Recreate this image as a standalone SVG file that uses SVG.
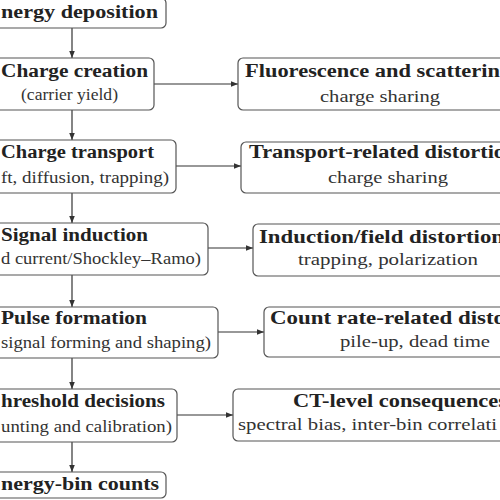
<svg xmlns="http://www.w3.org/2000/svg" width="500" height="500" viewBox="0 0 500 500">
<defs>
<marker id="ah" viewBox="0 0 10 10" refX="10" refY="5" markerWidth="7" markerHeight="7" markerUnits="userSpaceOnUse" orient="auto">
<path d="M0,1 L10,5 L0,9 z" fill="#333"/>
</marker>
<style>
.box{fill:#fff;stroke:#555;stroke-width:1.2}
.h{font-family:'Liberation Serif','DejaVu Serif',serif;font-weight:bold;font-size:18px;fill:#222}
.s{font-family:'Liberation Serif','DejaVu Serif',serif;font-size:17px;fill:#333}
.c{stroke:#333;stroke-width:1.2;fill:none;marker-end:url(#ah)}
</style>
</defs>
<rect width="500" height="500" fill="#fff"/>
<g id="connectors">
<line class="c" x1="72" y1="28" x2="72" y2="58"/>
<line class="c" x1="72" y1="110" x2="72" y2="140"/>
<line class="c" x1="72" y1="193" x2="72" y2="223"/>
<line class="c" x1="72" y1="275" x2="72" y2="307"/>
<line class="c" x1="72" y1="358" x2="72" y2="389"/>
<line class="c" x1="72" y1="442" x2="72" y2="472"/>
<line class="c" x1="154" y1="84" x2="238" y2="84"/>
<line class="c" x1="176" y1="166" x2="241" y2="166"/>
<line class="c" x1="208" y1="248" x2="253" y2="248"/>
<line class="c" x1="218" y1="332" x2="264" y2="332"/>
<line class="c" x1="177" y1="415" x2="233" y2="415"/>
</g>
<g id="energy-deposition">
<rect class="box" x="-20" y="-2" width="186" height="30" rx="5"/>
<text class="h" x="1" y="18" textLength="157" lengthAdjust="spacingAndGlyphs">nergy deposition</text>
</g>
<g id="charge-creation">
<rect class="box" x="-14" y="58" width="168" height="52" rx="5"/>
<text class="h" x="1" y="77" textLength="147" lengthAdjust="spacingAndGlyphs">Charge creation</text>
<text class="s" x="21" y="100" textLength="97" lengthAdjust="spacingAndGlyphs">(carrier yield)</text>
</g>
<g id="charge-transport">
<rect class="box" x="-32" y="140" width="208" height="53" rx="5"/>
<text class="h" x="1" y="158" textLength="153" lengthAdjust="spacingAndGlyphs">Charge transport</text>
<text class="s" x="1" y="183" textLength="168" lengthAdjust="spacingAndGlyphs">ft, diffusion, trapping)</text>
</g>
<g id="signal-induction">
<rect class="box" x="-64" y="223" width="272" height="52" rx="5"/>
<text class="h" x="1" y="241" textLength="147" lengthAdjust="spacingAndGlyphs">Signal induction</text>
<text class="s" x="1" y="264" textLength="200" lengthAdjust="spacingAndGlyphs">d current/Shockley–Ramo)</text>
</g>
<g id="pulse-formation">
<rect class="box" x="-74" y="307" width="292" height="51" rx="5"/>
<text class="h" x="1" y="324" textLength="146" lengthAdjust="spacingAndGlyphs">Pulse formation</text>
<text class="s" x="1" y="348" textLength="210" lengthAdjust="spacingAndGlyphs">signal forming and shaping)</text>
</g>
<g id="threshold-decisions">
<rect class="box" x="-33" y="389" width="210" height="53" rx="5"/>
<text class="h" x="1" y="407" textLength="164" lengthAdjust="spacingAndGlyphs">hreshold decisions</text>
<text class="s" x="1" y="432" textLength="171" lengthAdjust="spacingAndGlyphs">unting and calibration)</text>
</g>
<g id="energy-bin-counts">
<rect class="box" x="-22" y="472" width="188" height="26" rx="5"/>
<text class="h" x="1" y="490" textLength="158" lengthAdjust="spacingAndGlyphs">nergy-bin counts</text>
</g>
<g id="fluorescence">
<rect class="box" x="238" y="58" width="290" height="52" rx="5"/>
<text class="h" x="245" y="77" textLength="255" lengthAdjust="spacingAndGlyphs">Fluorescence and scatterin</text>
<text class="s" x="320" y="102" textLength="120" lengthAdjust="spacingAndGlyphs">charge sharing</text>
</g>
<g id="transport-distortion">
<rect class="box" x="241" y="142" width="290" height="51" rx="5"/>
<text class="h" x="249" y="158" textLength="256" lengthAdjust="spacingAndGlyphs">Transport-related distortio</text>
<text class="s" x="328" y="183" textLength="120" lengthAdjust="spacingAndGlyphs">charge sharing</text>
</g>
<g id="induction-distortion">
<rect class="box" x="253" y="224" width="290" height="52" rx="5"/>
<text class="h" x="259" y="243" textLength="245" lengthAdjust="spacingAndGlyphs">Induction/field distortion</text>
<text class="s" x="298" y="265" textLength="180" lengthAdjust="spacingAndGlyphs">trapping, polarization</text>
</g>
<g id="count-rate-distortion">
<rect class="box" x="264" y="307" width="300" height="50" rx="5"/>
<text class="h" x="270" y="324" textLength="235" lengthAdjust="spacingAndGlyphs">Count rate-related disto</text>
<text class="s" x="340" y="347" textLength="150" lengthAdjust="spacingAndGlyphs">pile-up, dead time</text>
</g>
<g id="ct-consequences">
<rect class="box" x="233" y="389" width="300" height="52" rx="5"/>
<text class="h" x="293" y="407" textLength="214" lengthAdjust="spacingAndGlyphs">CT-level consequences</text>
<text class="s" x="238" y="430" textLength="259" lengthAdjust="spacingAndGlyphs">spectral bias, inter-bin correlati</text>
</g>
</svg>
